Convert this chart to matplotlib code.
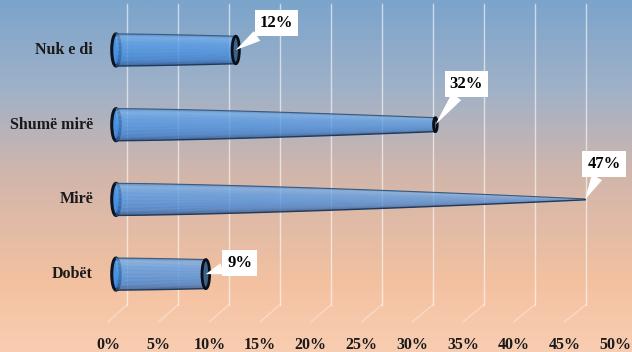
import numpy as np
import matplotlib
matplotlib.use("Agg")
import matplotlib.pyplot as plt
from matplotlib.patches import Ellipse, Polygon
from matplotlib.colors import LinearSegmentedColormap

# data
categories = ["Nuk e di", "Shumë mirë", "Mirë", "Dobët"]
values = [12, 32, 47, 9]
value_labels = ["12%", "32%", "47%", "9%"]
tick_values = [0, 5, 10, 15, 20, 25, 30, 35, 40, 45, 50]
tick_labels = [f"{t}%" for t in tick_values]

# callout offsets (pixels) for the value boxes
label_offsets = [(41, 27), (31, 41), (19, 35), (34, 11)]

R = 0.215          # cone base radius in category units
cap_w = 0.85       # width of the cap ellipse in x units at full radius
cone_len = 48.0    # where the cone shape closes to a point
cone_pow = 1.4     # perspective-ish bend of the cone profile

plt.rcParams['font.family'] = ['Liberation Serif', 'DejaVu Serif']

fig = plt.figure(figsize=(6.32, 3.52), dpi=100)

# background gradient
bg = fig.add_axes([0, 0, 1, 1])
bg_cmap = LinearSegmentedColormap.from_list(
    "bg", [(0.0, "#7ba4cb"), (0.25, "#9fb1c8"), (0.5, "#d2b6ab"),
           (0.8, "#f3c1a0"), (1.0, "#f9cdb2")])
bg.imshow(np.linspace(0, 1, 256).reshape(-1, 1), aspect="auto", cmap=bg_cmap,
          extent=[0, 1, 1, 0])
bg.set_axis_off()

ax = fig.add_axes([0, 0, 1, 1])
ax.patch.set_alpha(0)
ax.set_xlim(-11.62, 51.70)
ax.set_ylim(4.043, -0.669)
ax.set_axis_off()

# 3d gridlines: back wall + floor
y_top, y_corner, y_front = -0.62, 3.41, 3.64
for t in tick_values[:-1]:
    xb = 1.1 + t * 1.022
    xf = t * 1.016 - 0.8
    ax.plot([xb, xb], [y_top, y_corner], color="white", alpha=0.6, lw=1.0,
            zorder=1)
    ax.plot([xb, xf], [y_corner, y_front], color="white", alpha=0.35, lw=1.0,
            zorder=1)

body_cmap = LinearSegmentedColormap.from_list(
    "body", [(0.0, "#4f88c8"), (0.1, "#74aeea"), (0.3, "#5a9de6"),
             (0.6, "#4a90e0"), (0.85, "#3f7fcc"), (1.0, "#2a5590")])

def radius(x):
    return R * (1 - np.clip(x / cone_len, 0, 1) ** cone_pow)

n_bands = 40
for i, v in enumerate(values):
    rv = radius(v)
    xs = np.linspace(0, v, 60)
    rs = radius(xs)
    # left cap
    ax.add_patch(Ellipse((0, i), cap_w, 2 * R, fc="#4a90e0", ec="#0d1420",
                         lw=2.2, zorder=3))
    # body with shading following the taper
    edges = np.linspace(-1, 1, n_bands + 1)
    for k in range(n_bands):
        a, b = edges[k], edges[k + 1]
        top = np.column_stack([xs, i + a * rs])
        bot = np.column_stack([xs[::-1], i + b * rs[::-1]])
        ax.add_patch(Polygon(np.vstack([top, bot]), closed=True,
                             fc=body_cmap((k + 0.5) / n_bands), ec="none",
                             zorder=4))
    ax.plot(xs, i - rs, color="#3a5a80", lw=0.8, zorder=5)
    ax.plot(xs, i + rs, color="#1f3a5c", lw=1.0, zorder=5)
    # right cap
    ax.add_patch(Ellipse((v, i), cap_w * rv / R, 2 * rv, fc="#3e6188",
                         ec="#0b0f18", lw=2.0 if rv > 0.05 else 0.3, zorder=6))

    dx, dy = label_offsets[i]
    ax.annotate(value_labels[i], xy=(v, i), xytext=(dx, dy),
                textcoords="offset pixels", ha="center", va="center",
                fontsize=12, fontweight="bold", color="black",
                bbox=dict(boxstyle="square,pad=0.3", fc="white", ec="none"),
                arrowprops=dict(arrowstyle="wedge,tail_width=0.7", fc="white",
                                ec="none", shrinkA=0, shrinkB=0),
                zorder=8)

    ax.text(-2.3, i, categories[i], ha="right", va="center", fontsize=11.5,
            fontweight="bold", color="#1a1a1a", zorder=7)

# tick labels sit on the front edge of the floor
for t, lab in zip(tick_values, tick_labels):
    ax.text(t * 1.016 - 0.8, 3.95, lab, ha="center", va="center",
            fontsize=11.5, fontweight="bold", color="#1a1a1a")

fig.savefig("out.png", dpi=100)
